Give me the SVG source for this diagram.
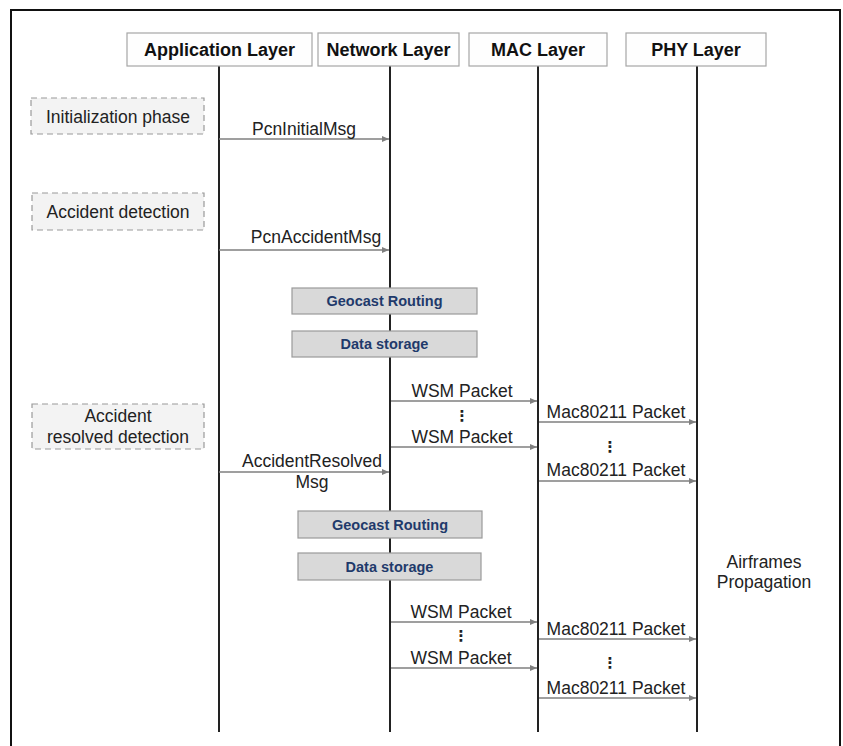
<svg xmlns="http://www.w3.org/2000/svg" width="843" height="746" viewBox="0 0 843 746">
<style>
.hdr{fill:#fefefe;stroke:#a6a6a6;stroke-width:1.2}
.hdrt{font-family:"Liberation Sans",Arial,sans-serif;font-weight:bold;font-size:18px;fill:#111;text-anchor:middle}
.life{stroke:#222;stroke-width:2}
.msg{stroke:#7f7f7f;stroke-width:1.5;fill:none;marker-end:url(#ah)}
.lbl{font-family:"Liberation Sans",Arial,sans-serif;font-size:17.5px;fill:#222;text-anchor:middle}
.phase{fill:#f3f3f3;stroke:#9a9a9a;stroke-width:1.2;stroke-dasharray:6 4}
.proc{fill:#d9d9d9;stroke:#9a9a9a;stroke-width:1.2}
.proct{font-family:"Liberation Sans",Arial,sans-serif;font-weight:bold;font-size:14.5px;fill:#1f3a6b;text-anchor:middle}
.dots{font-family:"DejaVu Sans",sans-serif;font-weight:bold;font-size:15px;fill:#222;text-anchor:middle}
</style>
<defs>
<marker id="ah" markerUnits="userSpaceOnUse" markerWidth="8" markerHeight="8" refX="7" refY="4" orient="auto">
<path d="M0,1 L7,4 L0,7 Z" fill="#7f7f7f"/>
</marker>
</defs>
<rect x="0" y="0" width="843" height="746" fill="#fff"/>
<path d="M11,760 L11,10 L840,10 L840,760" fill="none" stroke="#111" stroke-width="2"/>

<g id="lifelines">
<line class="life" x1="219" y1="66" x2="219" y2="732"/>
<line class="life" x1="390" y1="66" x2="390" y2="732"/>
<line class="life" x1="538" y1="66" x2="538" y2="732"/>
<line class="life" x1="697" y1="66" x2="697" y2="732"/>
</g>

<g id="app-layer"><rect class="hdr" x="127" y="33" width="185" height="33"/><text class="hdrt" x="219.5" y="56">Application Layer</text></g>
<g id="network-layer"><rect class="hdr" x="318" y="33" width="141" height="33"/><text class="hdrt" x="388.5" y="56">Network Layer</text></g>
<g id="mac-layer"><rect class="hdr" x="469" y="33" width="138" height="33"/><text class="hdrt" x="538" y="56">MAC Layer</text></g>
<g id="phy-layer"><rect class="hdr" x="626" y="33" width="140" height="33"/><text class="hdrt" x="696" y="56">PHY Layer</text></g>

<g id="init-phase"><rect class="phase" x="31" y="98" width="173" height="36"/><text class="lbl" x="118" y="123">Initialization phase</text></g>
<g id="accident-detection"><rect class="phase" x="32" y="193" width="172" height="37"/><text class="lbl" x="118" y="218">Accident detection</text></g>
<g id="accident-resolved"><rect class="phase" x="32" y="404" width="172" height="45"/><text class="lbl" x="118" y="422">Accident</text><text class="lbl" x="118" y="443">resolved detection</text></g>

<g id="geocast-1"><rect class="proc" x="292" y="288" width="185" height="26"/><text class="proct" x="384.5" y="306">Geocast Routing</text></g>
<g id="storage-1"><rect class="proc" x="292" y="331" width="185" height="26"/><text class="proct" x="384.5" y="349">Data storage</text></g>
<g id="geocast-2"><rect class="proc" x="298" y="511" width="184" height="27"/><text class="proct" x="390" y="530">Geocast Routing</text></g>
<g id="storage-2"><rect class="proc" x="298" y="553" width="183" height="27"/><text class="proct" x="389.5" y="572">Data storage</text></g>

<g id="airframes"><text class="lbl" x="764" y="568">Airframes</text><text class="lbl" x="764" y="588">Propagation</text></g>

<g id="connectors">
<line class="msg" x1="219" y1="139" x2="389" y2="139"/>
<text class="lbl" x="304" y="135">PcnInitialMsg</text>
<line class="msg" x1="219" y1="250" x2="389" y2="250"/>
<text class="lbl" x="316" y="243">PcnAccidentMsg</text>

<line class="msg" x1="391" y1="401" x2="537" y2="401"/>
<text class="lbl" x="462" y="397">WSM Packet</text>
<text class="dots" x="462" y="421">⋮</text>
<line class="msg" x1="391" y1="447" x2="537" y2="447"/>
<text class="lbl" x="462" y="443">WSM Packet</text>

<line class="msg" x1="539" y1="422" x2="696" y2="422"/>
<text class="lbl" x="616" y="418">Mac80211 Packet</text>
<text class="dots" x="610" y="452">⋮</text>
<line class="msg" x1="539" y1="481" x2="696" y2="481"/>
<text class="lbl" x="616" y="476">Mac80211 Packet</text>

<line class="msg" x1="219" y1="472" x2="389" y2="472"/>
<text class="lbl" x="312" y="467">AccidentResolved</text>
<text class="lbl" x="312" y="488">Msg</text>

<line class="msg" x1="391" y1="622" x2="537" y2="622"/>
<text class="lbl" x="461" y="618">WSM Packet</text>
<text class="dots" x="461" y="641">⋮</text>
<line class="msg" x1="391" y1="668" x2="537" y2="668"/>
<text class="lbl" x="461" y="664">WSM Packet</text>

<line class="msg" x1="539" y1="639" x2="696" y2="639"/>
<text class="lbl" x="616" y="635">Mac80211 Packet</text>
<text class="dots" x="610" y="668">⋮</text>
<line class="msg" x1="539" y1="698" x2="696" y2="698"/>
<text class="lbl" x="616" y="694">Mac80211 Packet</text>
</g>
</svg>
